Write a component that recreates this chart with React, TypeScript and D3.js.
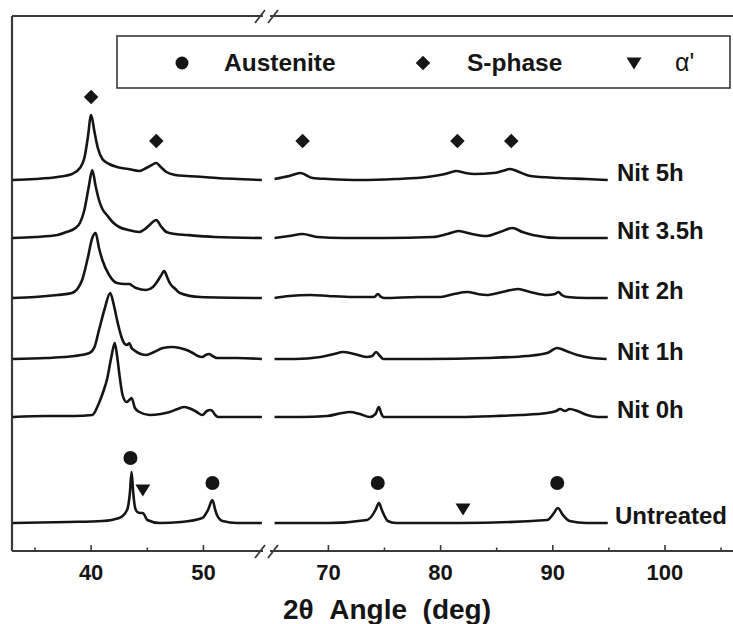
import React from "react";
import * as d3 from "d3";

type Pt = [number, number];

// ---- Data (2θ in degrees, intensity above each pattern's baseline, arbitrary units) ----
const seriesNames = ["Untreated", "Nit 0h", "Nit 1h", "Nit 2h", "Nit 3.5h", "Nit 5h"];
const seriesOffsets = [28, 134, 192, 253, 313, 371];

const untreatedLow: Pt[] = [[33,0],[38,1],[41,2],[42.5,5],[43.2,13],[43.45,30],[43.6,51],[43.75,30],[43.9,16],[44.1,11],[44.4,10],[44.6,10],[45.0,3],[46.1,0],[48,1],[49.9,5],[50.4,13],[50.8,23],[51.05,13],[51.2,8],[51.7,2],[53,0],[55.2,0]];
const untreatedHigh: Pt[] = [[65.2,0],[70,0],[73.45,3],[74.2,13],[74.5,20],[74.8,12],[75.3,2],[76,0],[81.7,0],[89.5,3],[90.1,10],[90.45,15],[90.9,8],[91.5,2],[93,0],[94.9,0]];

const nit0Low: Pt[] = [[33,0],[36,1],[38.5,1],[40.1,2],[40.7,14],[41.1,26],[41.4,37],[41.8,60],[42.1,74],[42.3,62],[42.5,44],[42.8,22],[43.15,15],[43.4,17],[43.6,19],[43.9,9],[44.3,5],[45.2,2],[46.2,3],[47.0,5],[47.7,8],[48.3,10],[48.9,8],[49.4,5],[49.9,2],[50.3,6],[50.6,7],[50.8,6],[51.05,2],[51.3,0],[53,0],[55.2,0]];
const nit0High: Pt[] = [[65.2,0],[67.5,0],[69.9,1],[71.2,4],[71.9,5],[72.8,3],[73.7,0],[74.2,3],[74.5,10],[74.7,4],[74.9,0],[78,0],[81.7,0],[85,1],[87.1,2],[89.5,4],[90.3,6],[90.65,8],[91.1,6],[91.5,8],[92.2,6],[93.05,2],[94.0,0],[94.9,0]];

const nit1Low: Pt[] = [[33,0],[36,1],[38.5,3],[39.85,6],[40.3,12],[40.7,29],[41.2,50],[41.7,66],[42.0,55],[42.25,42],[42.5,30],[42.7,22],[43.0,15],[43.2,14],[43.4,16],[43.6,11],[43.8,9],[44.2,6],[44.9,4],[45.6,7],[46.4,11],[47.2,12],[47.9,11],[48.5,9],[49.05,6],[49.5,3],[49.9,2],[50.2,4],[50.5,5],[50.8,3],[51.2,1],[53,1],[55.2,0]];
const nit1High: Pt[] = [[65.2,0],[67,0],[69.3,2],[70.5,5],[71.3,7],[72.3,5],[73.4,2],[73.9,3],[74.25,7],[74.6,3],[74.9,0],[78.8,0],[84,1],[87.7,3],[89.5,6],[90.4,11],[91.2,8],[92.2,4],[93.5,1],[94.8,0]];

const nit2Low: Pt[] = [[33,0],[35,1],[37,3],[38.3,5],[39.2,18],[39.7,40],[40.1,60],[40.4,65],[40.7,50],[41.0,38],[41.6,23],[42.3,15],[43.0,14],[43.4,14],[43.7,12],[44.0,10],[44.9,8],[45.5,11],[45.8,15],[46.2,22],[46.5,27],[46.8,20],[47.0,15],[47.5,9],[47.9,5],[49.7,1],[55.2,0]];
const nit2High: Pt[] = [[65.2,0],[66.5,2],[68.4,3],[70,2],[72.2,1],[74.1,1],[74.4,4],[74.7,1],[75.0,0],[78,1],[80.0,1],[81.2,4],[82.4,6],[83.3,4],[84.1,3],[85.5,6],[86.9,9],[88.0,6],[89.5,3],[90.2,4],[90.5,6],[90.8,3],[91.3,1],[93,0],[94.9,0]];

const nit35Low: Pt[] = [[33,0],[35,1],[37,3],[37.8,6],[38.6,10],[39.0,15],[39.4,28],[39.8,52],[40.1,68],[40.4,52],[40.7,38],[41.0,29],[41.4,23],[42.0,15],[42.5,11],[43.3,8],[44.3,6],[44.8,9],[45.2,13],[45.8,18],[46.2,12],[46.7,6],[47.5,4],[48.5,3],[51,1],[55.2,0]];
const nit35High: Pt[] = [[65.2,0],[66.5,2],[67.7,4],[69,1],[71.3,0],[75,0],[79.3,1],[80.6,4],[81.6,7],[82.8,4],[84.1,2],[85.3,6],[86.4,10],[87.3,6],[88.2,3],[90.6,0],[94.9,0]];

const nit5Low: Pt[] = [[33,0],[35,1],[37,3],[38.3,6],[39.0,12],[39.4,22],[39.7,42],[40.0,65],[40.3,48],[40.6,32],[41.0,21],[41.6,16],[42.3,13],[43.3,11],[44.3,9],[44.9,12],[45.4,15],[45.8,17],[46.2,13],[46.7,8],[47.5,5],[48.5,4],[50,3],[51.2,2],[53,1],[55.2,0]];
const nit5High: Pt[] = [[65.2,1],[66.5,4],[67.5,7],[68.6,2],[70,1],[72.8,0],[76,1],[78.8,3],[80.4,6],[81.4,9],[82.2,7],[83.0,6],[84.7,7],[85.5,9],[86.2,11],[87.0,8],[88.0,4],[90.6,2],[93,1],[94.9,0]];

const lowSegments = [untreatedLow, nit0Low, nit1Low, nit2Low, nit35Low, nit5Low];
const highSegments = [untreatedHigh, nit0High, nit1High, nit2High, nit35High, nit5High];

// phase markers: [2θ, absolute intensity]
const austeniteMarks: Pt[] = [[43.5,93],[50.8,68],[74.4,68],[90.4,68]];
const sPhaseMarks: Pt[] = [[40.0,454],[45.8,410],[67.7,410],[81.5,410],[86.3,410]];
const alphaMarks: Pt[] = [[44.6,61],[82.0,42]];

const legendLabels = ["Austenite", "S-phase", "α'"];
const lowMajorTicks = [40, 50];
const lowMinorTicks = [35, 45];
const highMajorTicks = [70, 80, 90, 100];
const highMinorTicks = [75, 85, 95, 105];
const xTitle = "2θ  Angle  (deg)";

const W = 733, H = 624;
const FONT = "'Liberation Sans', Arial, Helvetica, sans-serif";
const INK = "#151515";
const FRAME = "#3a3a3a";

export default function App() {
  const left = 12, top = 16, bottom = 551;
  const xLow = d3.scaleLinear().domain([33, 55.3]).range([12.5, 263]);
  const xHigh = d3.scaleLinear().domain([65, 106]).range([272.3, 732.3]);
  const y = d3.scaleLinear().domain([0, 536]).range([bottom, bottom - 536]);

  const mkLine = (xs: d3.ScaleLinear<number, number>, off: number) =>
    d3.line<Pt>().x(d => xs(d[0])).y(d => y(d[1] + off)).curve(d3.curveMonotoneX);

  const xOf = (v: number) => (v < 60 ? xLow(v) : xHigh(v));

  const diamond = d3.symbol().type(d3.symbolDiamond2).size(135)();
  const triPath = (cx: number, cy: number) =>
    `M${cx - 7.5},${cy - 5.5}L${cx + 7.5},${cy - 5.5}L${cx},${cy + 6.5}Z`;

  const slash = (cx: number, cy: number) =>
    `M${cx - 5},${cy + 7}L${cx + 5},${cy - 6}`;

  return (
    <svg width={W} height={H} style={{ position: "absolute", left: 0, top: 0, background: "#fff" }}>
      <rect x={0} y={0} width={W} height={H} fill="#fff" />
      {/* frame */}
      <line x1={left} y1={top} x2={left} y2={bottom} stroke={FRAME} strokeWidth={2.2} />
      <line x1={left} y1={top} x2={263} y2={top} stroke={FRAME} strokeWidth={2.2} />
      <line x1={270} y1={top} x2={W} y2={top} stroke={FRAME} strokeWidth={2.2} />
      <line x1={left} y1={bottom} x2={263} y2={bottom} stroke={FRAME} strokeWidth={2.2} />
      <line x1={270} y1={bottom} x2={W} y2={bottom} stroke={FRAME} strokeWidth={2.2} />
      {[260, 273].map((cx, i) => (
        <g key={i}>
          <path d={slash(cx, bottom)} stroke={FRAME} strokeWidth={1.8} fill="none" />
          <path d={slash(cx, top)} stroke={FRAME} strokeWidth={1.8} fill="none" />
        </g>
      ))}
      {/* ticks */}
      {lowMajorTicks.map(t => (
        <line key={"lm" + t} x1={xLow(t)} x2={xLow(t)} y1={bottom} y2={bottom - 6} stroke={FRAME} strokeWidth={1.6} />
      ))}
      {lowMinorTicks.map(t => (
        <line key={"ln" + t} x1={xLow(t)} x2={xLow(t)} y1={bottom} y2={bottom - 3.5} stroke={FRAME} strokeWidth={1.6} />
      ))}
      {highMajorTicks.map(t => (
        <line key={"hm" + t} x1={xHigh(t)} x2={xHigh(t)} y1={bottom} y2={bottom - 6} stroke={FRAME} strokeWidth={1.6} />
      ))}
      {highMinorTicks.map(t => (
        <line key={"hn" + t} x1={xHigh(t)} x2={xHigh(t)} y1={bottom} y2={bottom - 3.5} stroke={FRAME} strokeWidth={1.6} />
      ))}
      {lowMajorTicks.map(t => (
        <text key={"lt" + t} x={xLow(t)} y={580} textAnchor="middle" fontFamily={FONT} fontWeight="bold" fontSize={22} fill={INK}>{t}</text>
      ))}
      {highMajorTicks.map(t => (
        <text key={"ht" + t} x={xHigh(t)} y={580} textAnchor="middle" fontFamily={FONT} fontWeight="bold" fontSize={22} fill={INK}>{t}</text>
      ))}
      <text x={387} y={619} textAnchor="middle" fontFamily={FONT} fontWeight="bold" fontSize={28} fill={INK} style={{ whiteSpace: "pre" }}>{xTitle}</text>

      {/* patterns */}
      {seriesNames.map((name, i) => (
        <g key={name}>
          <path d={mkLine(xLow, seriesOffsets[i])(lowSegments[i]) || ""} fill="none" stroke={INK} strokeWidth={2.6} strokeLinejoin="round" />
          <path d={mkLine(xHigh, seriesOffsets[i])(highSegments[i]) || ""} fill="none" stroke={INK} strokeWidth={2.6} strokeLinejoin="round" />
          <text x={name === "Untreated" ? 615 : 617} y={y(seriesOffsets[i]) + 1} fontFamily={FONT} fontWeight="bold" fontSize={24} fill={INK}>{name}</text>
        </g>
      ))}

      {/* phase markers */}
      {austeniteMarks.map((m, i) => (
        <circle key={"a" + i} cx={xOf(m[0])} cy={y(m[1])} r={7} fill={INK} />
      ))}
      {sPhaseMarks.map((m, i) => (
        <path key={"s" + i} d={diamond || ""} transform={`translate(${xOf(m[0])},${y(m[1])})`} fill={INK} />
      ))}
      {alphaMarks.map((m, i) => (
        <path key={"t" + i} d={triPath(xOf(m[0]), y(m[1]))} fill={INK} />
      ))}

      {/* legend */}
      <rect x={117} y={36} width={613} height={52} fill="#fff" stroke={FRAME} strokeWidth={1.6} />
      <circle cx={182} cy={63} r={6.5} fill={INK} />
      <text x={224} y={71} fontFamily={FONT} fontWeight="bold" fontSize={24.5} fill={INK}>{legendLabels[0]}</text>
      <path d={diamond || ""} transform="translate(423,63)" fill={INK} />
      <text x={467} y={71} fontFamily={FONT} fontWeight="bold" fontSize={24.5} fill={INK}>{legendLabels[1]}</text>
      <path d={triPath(634, 63)} fill={INK} />
      <text x={675} y={71} fontFamily={FONT} fontSize={25} fill={INK}>{legendLabels[2]}</text>
    </svg>
  );
}
